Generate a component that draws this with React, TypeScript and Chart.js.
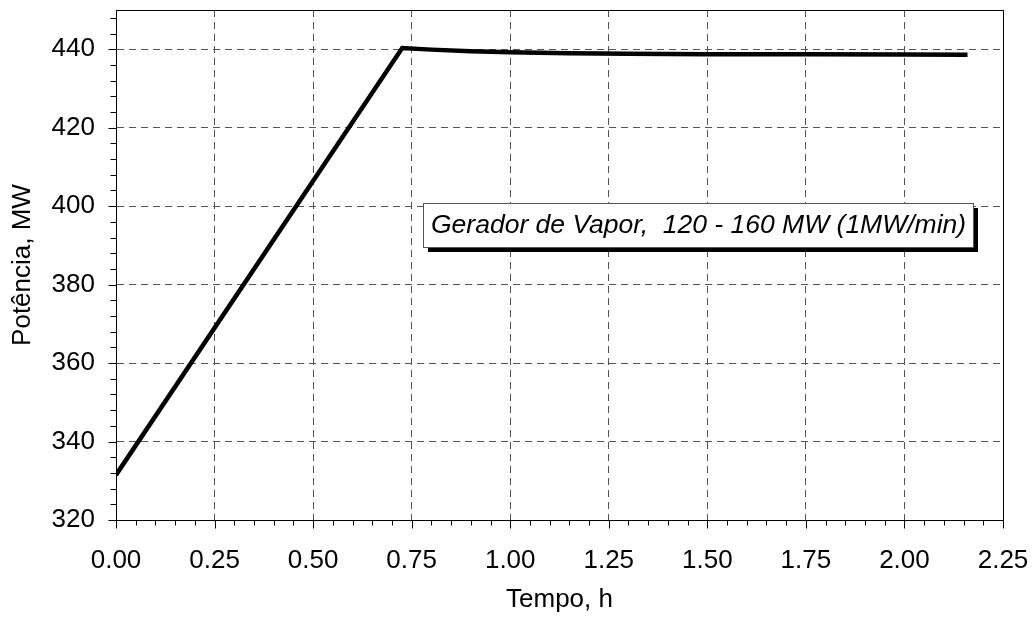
import React, { useEffect, useRef } from "react";
import { Chart, registerables } from "chart.js";

Chart.register(...registerables);

// Steam generator output power during the load ramp
const TIME_H = [0, 0.726, 0.8, 0.9, 1.0, 1.15, 1.3, 1.5, 1.75, 2.0, 2.16];
const POWER_MW = [331.5, 440.3, 439.9, 439.5, 439.2, 439.0, 438.85, 438.75, 438.7, 438.65, 438.6];

const X_MIN = 0;
const X_MAX = 2.25;
const X_MINOR_STEP = 0.05;
const X_MAJOR_EVERY = 5; // label every 0.25 h

const Y_MIN = 320;
const Y_MAX = 450;
const Y_MINOR_STEP = 4;
const Y_MAJOR_EVERY = 5; // label every 20 MW

const X_TITLE = "Tempo, h";
const Y_TITLE = "Potência, MW";
const NOTE_TEXT = "Gerador de Vapor,  120 - 160 MW (1MW/min)";

const FONT = "'Liberation Sans', Arial, Helvetica, sans-serif";

const isMajor = (value: number, step: number, every: number, base: number) =>
  Math.round((value - base) / step) % every === 0;

// Frame, hand-drawn tick marks (long for major, short for minor) and the note box
const decorPlugin = {
  id: "decor",
  afterDraw(chart: any) {
    const { ctx, chartArea } = chart;
    const xs = chart.scales.x;
    const ys = chart.scales.y;
    ctx.save();
    ctx.strokeStyle = "#000";
    ctx.lineWidth = 1;
    ctx.setLineDash([]);
    ctx.strokeRect(
      Math.round(chartArea.left) + 0.5,
      Math.round(chartArea.top) + 0.5,
      Math.round(chartArea.right) - Math.round(chartArea.left),
      Math.round(chartArea.bottom) - Math.round(chartArea.top)
    );
    // x ticks
    const bottom = Math.round(chartArea.bottom) + 0.5;
    xs.ticks.forEach((t: any) => {
      const px = Math.round(xs.getPixelForValue(t.value)) + 0.5;
      const len = isMajor(t.value, X_MINOR_STEP, X_MAJOR_EVERY, X_MIN) ? 8 : 5;
      ctx.beginPath();
      ctx.moveTo(px, bottom);
      ctx.lineTo(px, bottom + len);
      ctx.stroke();
    });
    // y ticks
    const left = Math.round(chartArea.left) + 0.5;
    ys.ticks.forEach((t: any) => {
      const py = Math.round(ys.getPixelForValue(t.value)) + 0.5;
      const len = isMajor(t.value, Y_MINOR_STEP, Y_MAJOR_EVERY, Y_MIN) ? 8 : 6;
      ctx.beginPath();
      ctx.moveTo(left, py);
      ctx.lineTo(left - len, py);
      ctx.stroke();
    });

    // note box with drop shadow
    const bx0 = Math.round(xs.getPixelForValue(0.779));
    const bx1 = Math.round(xs.getPixelForValue(2.174));
    const by0 = Math.round(ys.getPixelForValue(400.7));
    const by1 = Math.round(ys.getPixelForValue(389.7));
    const w = bx1 - bx0;
    const h = by1 - by0;
    ctx.fillStyle = "#000";
    ctx.fillRect(bx0 + 5, by0 + 5, w, h);
    ctx.fillStyle = "#fff";
    ctx.fillRect(bx0, by0, w, h);
    ctx.strokeStyle = "#555";
    ctx.strokeRect(bx0 + 0.5, by0 + 0.5, w, h);
    ctx.fillStyle = "#000";
    ctx.font = `italic 26.5px ${FONT}`;
    ctx.textAlign = "left";
    ctx.textBaseline = "middle";
    ctx.fillText(NOTE_TEXT, bx0 + 8, by0 + h / 2 + 1);
    ctx.restore();
  },
};

const noEdgePadding = (s: any) => {
  s.paddingTop = 0;
  s.paddingBottom = 0;
  s.paddingLeft = 0;
  s.paddingRight = 0;
};

export default function App() {
  const canvasRef = useRef<HTMLCanvasElement | null>(null);

  useEffect(() => {
    if (!canvasRef.current) return;
    const chart = new Chart(canvasRef.current, {
      type: "line",
      data: {
        datasets: [
          {
            data: TIME_H.map((t, i) => ({ x: t, y: POWER_MW[i] })),
            borderColor: "#000",
            borderWidth: 4.5,
            pointRadius: 0,
            borderJoinStyle: "miter",
            tension: 0,
            fill: false,
          },
        ],
      },
      plugins: [decorPlugin],
      options: {
        animation: false,
        responsive: false,
        devicePixelRatio: 1,
        layout: { padding: { top: 10, right: 30, left: 0, bottom: 0 } },
        plugins: { legend: { display: false }, tooltip: { enabled: false } },
        scales: {
          x: {
            type: "linear",
            min: X_MIN,
            max: X_MAX,
            afterFit: (s: any) => {
              s.height = 99;
              noEdgePadding(s);
            },
            ticks: {
              stepSize: X_MINOR_STEP,
              autoSkip: false,
              includeBounds: false,
              maxRotation: 0,
              minRotation: 0,
              padding: 17,
              color: "#000",
              font: { family: FONT, size: 26 },
              callback: (v: any) =>
                isMajor(Number(v), X_MINOR_STEP, X_MAJOR_EVERY, X_MIN) ? Number(v).toFixed(2) : "",
            },
            grid: {
              color: (c: any) =>
                c.tick && isMajor(c.tick.value, X_MINOR_STEP, X_MAJOR_EVERY, X_MIN)
                  ? "#555"
                  : "rgba(0,0,0,0)",
              lineWidth: 1,
              tickLength: 8,
              tickColor: "rgba(0,0,0,0)",
            },
            border: { display: true, color: "#000", width: 1, dash: [7, 5] },
            title: {
              display: true,
              text: X_TITLE,
              color: "#000",
              font: { family: FONT, size: 26 },
              padding: { top: 0, bottom: 4 },
            },
          },
          y: {
            type: "linear",
            min: Y_MIN,
            max: Y_MAX,
            afterFit: (s: any) => {
              s.width = 116;
              noEdgePadding(s);
            },
            ticks: {
              stepSize: Y_MINOR_STEP,
              autoSkip: false,
              includeBounds: false,
              padding: 13,
              color: "#000",
              font: { family: FONT, size: 26 },
              callback: (v: any) =>
                isMajor(Number(v), Y_MINOR_STEP, Y_MAJOR_EVERY, Y_MIN) ? String(Math.round(Number(v))) : "",
            },
            grid: {
              color: (c: any) =>
                c.tick && isMajor(c.tick.value, Y_MINOR_STEP, Y_MAJOR_EVERY, Y_MIN)
                  ? "#555"
                  : "rgba(0,0,0,0)",
              lineWidth: 1,
              tickLength: 8,
              tickColor: "rgba(0,0,0,0)",
            },
            border: { display: true, color: "#000", width: 1, dash: [7, 5] },
            title: {
              display: true,
              text: Y_TITLE,
              color: "#000",
              font: { family: FONT, size: 26 },
              padding: { top: 7, bottom: 0 },
            },
          },
        },
      },
    });
    return () => chart.destroy();
  }, []);

  return (
    <div style={{ position: "fixed", left: 0, top: 0, width: 1033, height: 619, background: "#fff" }}>
      <canvas ref={canvasRef} width={1033} height={619} style={{ display: "block" }} />
    </div>
  );
}
